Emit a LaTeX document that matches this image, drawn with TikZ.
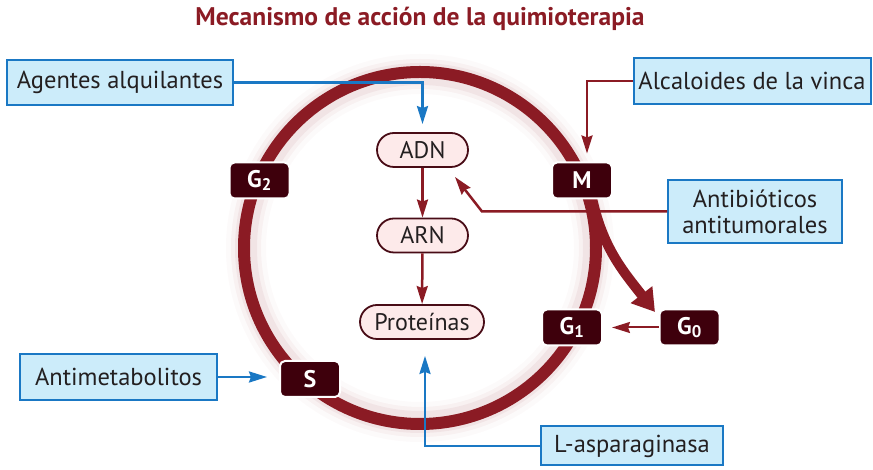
\documentclass[tikz,border=0pt]{standalone}
\usepackage{fontspec}
\setmainfont{PT Sans}
\usepackage{xcolor}
\usetikzlibrary{arrows.meta,positioning}
\definecolor{CycleRed}{RGB}{139,27,36}
\definecolor{PhaseDark}{RGB}{62,0,12}
\definecolor{DrugBlue}{RGB}{26,120,196}
\definecolor{DrugFill}{RGB}{204,236,250}
\definecolor{PillFill}{RGB}{253,234,234}
\definecolor{PillLine}{RGB}{72,12,22}
\definecolor{InkDark}{RGB}{35,31,32}

\begin{document}
\begin{tikzpicture}[x=1pt,y=1pt,
    drug/.style={draw=DrugBlue, fill=DrugFill, line width=2pt, text=InkDark, inner sep=0pt, align=center, font=\fontsize{24.5}{27}\selectfont},
    pill/.style={draw=PillLine, fill=PillFill, line width=1.8pt, rounded corners=17pt, text=InkDark, inner sep=0pt, minimum height=34pt, font=\fontsize{24}{27}\selectfont},
    phase/.style={draw=white, line width=2pt, fill=PhaseDark, rounded corners=5pt, text=white, minimum width=60pt, minimum height=36pt, inner sep=0pt, font=\fontsize{24}{27}\selectfont\bfseries},
    bluearrow/.style={draw=DrugBlue, line width=2.5pt, -{Stealth[length=18pt,width=11pt,inset=2pt]}},
    redarrow/.style={draw=CycleRed, line width=2.5pt, -{Stealth[length=18pt,width=11pt,inset=2pt]}}]
    \useasboundingbox (0,0) rectangle (873,470);
    \node[font=\fontsize{25.5}{28}\selectfont\bfseries, text=CycleRed] (title) at (420,451) {Mecanismo de acción de la quimioterapia};
    % ring with soft glow
    \foreach \w/\o in {40/0.025,30/0.04,22/0.06} {
      \draw[CycleRed, opacity=\o, line width=\w pt] (420,222) circle (174);
    }
    \draw[CycleRed, line width=12pt] (420,222) circle (176);
    \draw[CycleRed, line width=10pt, -{Triangle[length=22pt,width=26pt]}] (592,272) to[out=-78,in=128] (655,158);
    % phases of the cycle
    \foreach \nm/\lbl/\px/\py in {g2/G\textsubscript{2}/259.5/289.5, m/M/582/289.5, g1/G\textsubscript{1}/572/142.5, g0/G\textsubscript{0}/689.5/142.5, s/S/310/91} {
      \node[phase] (\nm) at (\px,\py) {\lbl};
    }
    % molecules
    \node[pill, minimum width=91pt] (adn) at (422.5,320) {ADN};
    \node[pill, minimum width=91pt] (arn) at (422.5,234.5) {ARN};
    \node[pill, minimum width=124pt] (prot) at (422,148) {Proteínas};
    \draw[redarrow] (adn) -- (arn);
    \draw[redarrow] (arn) -- (prot);
    \draw[redarrow, line width=2pt, shorten >=9pt] (g0.west) -- (g1.east);
    % drugs
    \node[drug, minimum width=226pt, minimum height=45pt] (agentes) at (120,387.5) {Agentes alquilantes};
    \node[drug, minimum width=237pt, minimum height=46pt] (alcal) at (752,389) {Alcaloides de la vinca};
    \node[drug, minimum width=174pt, minimum height=63pt, font=\fontsize{24.5}{26}\selectfont] (antib) at (755,258.5) {Antibióticos\\antitumorales};
    \node[drug, minimum width=197pt, minimum height=46pt] (antimeta) at (118.5,93) {Antimetabolitos};
    \node[drug, minimum width=182pt, minimum height=39pt] (lasp) at (632,24) {L-asparaginasa};
    \coordinate (adnhit) at (455,293);
    \draw[bluearrow, shorten >=8pt] (agentes.east) -| (adn.north);
    \draw[redarrow, shorten >=8pt] (alcal.west) -| ([xshift=5pt]m.north);
    \draw[redarrow] (antib.west) -- ++(-185,0) -- (adnhit);
    \draw[bluearrow, shorten >=12pt] (antimeta.east) -- (antimeta.east -| s.west);
    \draw[bluearrow, shorten >=16pt] (lasp.west) -| ([xshift=3pt]prot.south);
\end{tikzpicture}
\end{document}
